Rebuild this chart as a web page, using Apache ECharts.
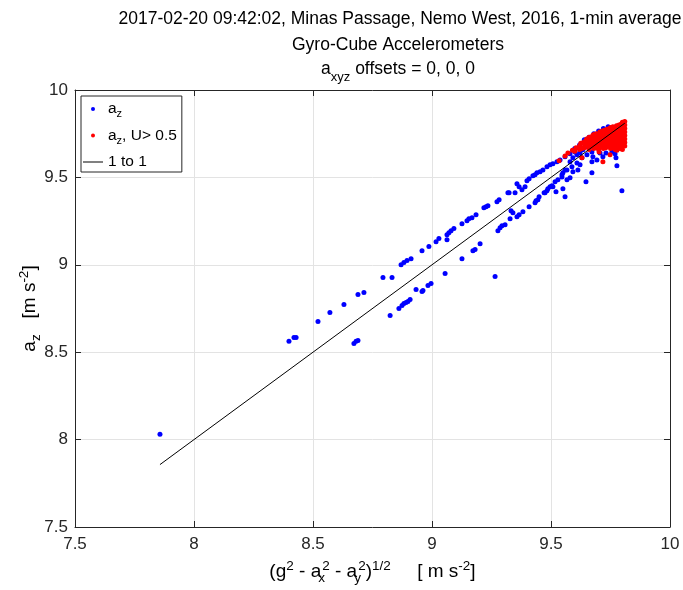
<!DOCTYPE html>
<html><head><meta charset="utf-8">
<script src="https://cdn.jsdelivr.net/npm/echarts@6/dist/echarts.min.js"></script>
<style>html,body{margin:0;padding:0;background:#fff}#c{width:683px;height:590px}</style>
</head><body><div id="c"></div>
<script>
// ---- data ----
const axisMin = 7.5, axisMax = 10, axisStep = 0.5;
const xTicks = [7.5, 8, 8.5, 9, 9.5, 10];
const yTicks = [7.5, 8, 8.5, 9, 9.5, 10];
// a_z, all points  [ (g^2-ax^2-ay^2)^1/2 , a_z ]
const azPoints = [
 [7.857,8.031],[8.399,8.562],[8.420,8.584],[8.429,8.584],[8.521,8.676],[8.571,8.727],[8.630,8.773],
 [8.689,8.830],[8.714,8.841],[8.672,8.550],[8.681,8.562],[8.689,8.567],[8.794,8.927],[8.832,8.927],
 [8.824,8.710],[8.861,8.750],[8.874,8.767],[8.882,8.779],[8.891,8.784],[8.899,8.790],[8.908,8.801],
 [8.870,9.001],[8.882,9.013],[8.895,9.024],[8.912,9.035],[8.933,8.858],[8.958,8.847],[8.962,8.853],
 [8.983,8.881],[8.996,8.893],[9.055,8.950],[8.958,9.081],[8.987,9.104],[9.017,9.132],[9.029,9.150],
 [9.063,9.144],[9.063,9.172],[9.071,9.184],[9.080,9.195],[9.092,9.207],[9.126,9.235],[9.147,9.252],
 [9.155,9.264],[9.168,9.269],[9.185,9.287],[9.218,9.326],[9.227,9.332],[9.235,9.338],[9.273,9.361],
 [9.282,9.372],[9.126,9.035],[9.172,9.081],[9.181,9.087],[9.202,9.121],[9.265,8.933],[9.277,9.195],
 [9.286,9.212],[9.294,9.224],[9.307,9.229],[9.332,9.309],[9.357,9.275],[9.366,9.287],[9.382,9.304],
 [9.408,9.332],[9.433,9.355],[9.445,9.372],[9.471,9.412],[9.483,9.424],[9.487,9.435],[9.496,9.446],
 [9.504,9.452],[9.508,9.446],[9.521,9.418],[9.319,9.412],[9.366,9.446],[9.378,9.429],[9.391,9.446],
 [9.399,9.481],[9.408,9.492],[9.424,9.509],[9.433,9.515],[9.441,9.526],[9.454,9.532],[9.466,9.543],
 [9.483,9.561],[9.496,9.572],[9.508,9.578],[9.525,9.589],[9.538,9.600],[9.559,9.618],[9.580,9.635],
 [9.601,9.646],[9.622,9.663],[9.643,9.675],[9.664,9.692],[9.685,9.703],[9.517,9.475],[9.529,9.486],
 [9.546,9.503],[9.550,9.526],[9.567,9.543],[9.588,9.561],[9.609,9.583],[9.630,9.612],[9.651,9.629],
 [9.672,9.646],[9.550,9.435],[9.559,9.389],[9.647,9.475],[9.672,9.526],[9.777,9.566],[9.769,9.635],
 [9.798,9.424],[9.437,9.366],[9.450,9.389],[9.475,9.412],[9.340,9.298],[9.328,9.264],[9.357,9.463],
 [9.324,9.412],[9.349,9.412],[9.546,9.515],[9.559,9.543],[9.580,9.589],[9.592,9.612],[9.609,9.629],
 [9.622,9.640],[9.634,9.658],[9.651,9.675],[9.664,9.686],[9.676,9.618],[9.693,9.600],[9.706,9.640],
 [9.718,9.618],[9.731,9.640],[9.756,9.646],[9.773,9.612],[9.672,9.589],[9.592,9.532],[9.613,9.543],
 [9.622,9.572],[9.567,9.486],[9.580,9.498],[9.600,9.665],[9.620,9.685],[9.640,9.715],[9.660,9.730],
 [9.680,9.750],[9.700,9.765],[9.720,9.780],[9.740,9.790]
];
// a_z where U > 0.5
const azUPoints = [
 [9.600,9.650],[9.605,9.670],[9.620,9.660],[9.620,9.680],[9.625,9.695],[9.630,9.665],[9.635,9.700],
 [9.640,9.670],[9.640,9.690],[9.645,9.710],[9.650,9.680],[9.655,9.700],[9.650,9.720],
 [9.660,9.660],[9.660,9.690],[9.665,9.710],[9.660,9.730],[9.670,9.675],[9.675,9.700],[9.670,9.720],[9.675,9.740],
 [9.680,9.665],[9.685,9.685],[9.680,9.705],[9.685,9.725],[9.680,9.745],
 [9.690,9.670],[9.695,9.690],[9.690,9.710],[9.695,9.730],[9.690,9.750],
 [9.700,9.660],[9.705,9.680],[9.700,9.700],[9.705,9.720],[9.700,9.740],[9.705,9.760],
 [9.710,9.675],[9.715,9.695],[9.710,9.715],[9.715,9.735],[9.710,9.755],[9.715,9.765],
 [9.720,9.665],[9.725,9.685],[9.720,9.705],[9.725,9.725],[9.720,9.745],[9.725,9.770],
 [9.730,9.670],[9.735,9.690],[9.730,9.710],[9.735,9.730],[9.730,9.750],[9.735,9.775],
 [9.740,9.680],[9.745,9.700],[9.740,9.720],[9.745,9.740],[9.740,9.760],[9.745,9.780],
 [9.750,9.665],[9.755,9.685],[9.750,9.705],[9.755,9.725],[9.750,9.745],[9.755,9.765],[9.750,9.785],
 [9.760,9.670],[9.765,9.690],[9.760,9.710],[9.765,9.730],[9.760,9.750],[9.765,9.770],[9.760,9.790],
 [9.770,9.660],[9.775,9.680],[9.770,9.700],[9.775,9.720],[9.770,9.740],[9.775,9.760],[9.770,9.780],[9.775,9.795],
 [9.780,9.670],[9.785,9.690],[9.780,9.710],[9.785,9.730],[9.780,9.750],[9.785,9.770],[9.780,9.790],[9.785,9.800],
 [9.790,9.665],[9.795,9.685],[9.790,9.705],[9.795,9.725],[9.790,9.745],[9.795,9.765],[9.790,9.785],[9.795,9.805],
 [9.800,9.660],[9.800,9.680],[9.800,9.700],[9.800,9.720],[9.800,9.740],[9.800,9.760],[9.800,9.780],[9.800,9.800],[9.800,9.815],
 [9.810,9.680],[9.810,9.700],[9.810,9.720],[9.810,9.740],[9.810,9.760],[9.810,9.780],[9.810,9.800],[9.810,9.820],
 [9.534,9.595],[9.559,9.623],[9.571,9.640],[9.630,9.612],[9.702,9.646],[9.718,9.589],[9.748,9.629],[9.777,9.655],[9.590,9.655]
];
// 1-to-1 reference line endpoints (x = y)
const oneToOne = [7.857, 9.81];

// ---- chart ----
const FONT = '"Liberation Sans", Arial, Helvetica, sans-serif';
const AX = '#262626';
const chart = echarts.init(document.getElementById('c'), null, {renderer: 'canvas'});
const subRich = {
  n: {fontSize: 19, fontFamily: FONT, color: '#000'},
  sb: {fontSize: 13.5, fontFamily: FONT, color: '#000', padding: [12, 0, 0, 0]},
  sbx: {fontSize: 13.5, fontFamily: FONT, color: '#000', padding: [12, 0, 0, 0], width: 1},
  sp: {fontSize: 13.5, fontFamily: FONT, color: '#000', padding: [0, 0, 12, 0]}
};
const titleRich = {
  n: {fontSize: 17.5, fontFamily: FONT, color: '#000'},
  sb: {fontSize: 13, fontFamily: FONT, color: '#000', padding: [16, 0, 0, 0]}
};
const baseAxis = {
  type: 'value', min: axisMin, max: axisMax, interval: axisStep,
  axisLine: {show: true, lineStyle: {color: AX, width: 1}},
  axisTick: {show: true, inside: true, length: 6, lineStyle: {color: AX, width: 1}},
  splitLine: {show: false}
};
chart.setOption({
  animation: false,
  backgroundColor: '#fff',
  textStyle: {fontFamily: FONT},
  title: [
    {text: '2017-02-20 09:42:02, Minas Passage, Nemo West, 2016, 1-min average', left: 400, textAlign: 'center', top: 10, padding: 0,
     textStyle: {fontSize: 17.5, fontWeight: 'normal', color: '#000', fontFamily: FONT}},
    {text: 'Gyro-Cube Accelerometers', left: 398, textAlign: 'center', top: 36, padding: 0,
     textStyle: {fontSize: 17.5, fontWeight: 'normal', color: '#000', fontFamily: FONT}},
    {text: '{n|a}{sb|xyz}{n| offsets = 0, 0, 0}', left: 398, textAlign: 'center', top: 55, padding: 0,
     textStyle: {fontSize: 17.5, fontWeight: 'normal', color: '#000', fontFamily: FONT, rich: titleRich}}
  ],
  grid: {left: 75, right: 13, top: 90, bottom: 62, containLabel: false},
  legend: {
    orient: 'vertical', left: 81, top: 96, itemWidth: 20, itemHeight: 4, itemGap: 8,
    padding: [5, 5, 2, 2], backgroundColor: '#fff', borderColor: AX, borderWidth: 1, borderRadius: 0,
    selectedMode: false,
    data: [{name: 'az', icon: 'circle'}, {name: 'azU', icon: 'circle'},
           {name: 'one', icon: 'path://M0,0H20V1H0Z', itemStyle: {color: '#000'}}],
    formatter: function (n) {
      if (n === 'az') return '{a|a}{s|z}';
      if (n === 'azU') return '{a|a}{s|z}{a|, U> 0.5}';
      return '{a|1 to 1}';
    },
    textStyle: {fontSize: 15.5, color: '#000', fontFamily: FONT, rich: {
      a: {fontSize: 15.5, fontFamily: FONT, color: '#000'},
      s: {fontSize: 11, fontFamily: FONT, color: '#000', padding: [10, 0, 0, 0]}
    }}
  },
  xAxis: [
    Object.assign({}, baseAxis, {
      position: 'bottom',
      axisLabel: {show: true, color: AX, fontSize: 17, margin: 9, fontFamily: FONT},
      splitLine: {show: true, lineStyle: {color: '#e3e3e3', width: 1}},
      name: '{n|(g}{sp|2}{n| - a}{sbx|x}{sp|2}{n| - a}{sbx|y}{sp|2}{n|)}{sp|1/2}{n|     [ m s}{sp|-2}{n|]}',
      nameLocation: 'middle', nameGap: 32,
      nameTextStyle: {fontSize: 19, color: '#000', fontFamily: FONT, rich: subRich}
    }),
    Object.assign({}, baseAxis, {position: 'top', axisLabel: {show: false}})
  ],
  yAxis: [
    Object.assign({}, baseAxis, {
      position: 'left',
      axisLabel: {show: true, color: AX, fontSize: 17, margin: 7, fontFamily: FONT},
      splitLine: {show: true, lineStyle: {color: '#e3e3e3', width: 1}},
      name: '{n|a}{sb|z}{n|   [m s}{sp|-2}{n|]}',
      nameLocation: 'middle', nameGap: 32, nameMoveOverlap: false,
      nameTextStyle: {fontSize: 19, color: '#000', fontFamily: FONT, rich: subRich}
    }),
    Object.assign({}, baseAxis, {position: 'right', axisLabel: {show: false}})
  ],
  series: [
    {name: 'az', type: 'scatter', xAxisIndex: 0, yAxisIndex: 0, symbol: 'circle', symbolSize: 5,
     itemStyle: {color: '#0000ff', opacity: 1}, data: azPoints, silent: true},
    {name: 'azU', type: 'scatter', xAxisIndex: 0, yAxisIndex: 0, symbol: 'circle', symbolSize: 5,
     itemStyle: {color: '#ff0000', opacity: 1}, data: azUPoints, silent: true},
    {name: 'one', type: 'line', xAxisIndex: 0, yAxisIndex: 0, symbol: 'none', silent: true,
     itemStyle: {color: '#000'}, lineStyle: {color: '#000', width: 1},
     data: oneToOne.map(v => [v, v])}
  ]
});
</script>
</body></html>
